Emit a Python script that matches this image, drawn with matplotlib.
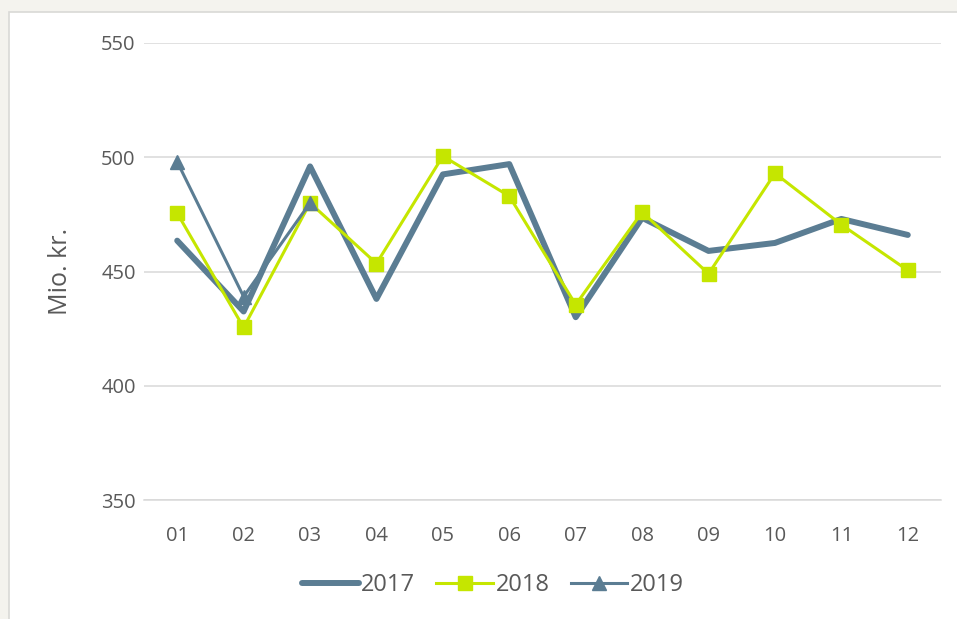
import matplotlib
matplotlib.use("Agg")
import matplotlib.pyplot as plt
from matplotlib.patches import Rectangle

months = ["01", "02", "03", "04", "05", "06", "07", "08", "09", "10", "11", "12"]
v2017 = [463.5, 432.5, 496, 438, 492.5, 497, 430, 473.5, 459, 462.5, 473, 466]
v2018 = [475.5, 425.5, 480, 453.5, 500.5, 483, 435.5, 476, 449, 493, 470.5, 450.5]
v2019 = [498, 439, 480]

c_blue = "#5b7d93"
c_lime = "#c5e600"
c_text = "#595959"

plt.rcParams['font.family'] = ['Open Sans', 'DejaVu Sans']

fig = plt.figure(figsize=(9.57, 6.19), dpi=100)
fig.patch.set_facecolor("#f4f3ee")
# white chart panel
fig.patches.append(Rectangle((9 / 957, -0.01), 1, 1 - 12 / 619 + 0.01, transform=fig.transFigure,
                             facecolor="white", edgecolor="#d9d9d6", lw=1.2, zorder=-5))

ax = fig.add_axes([144 / 957, 1 - 500 / 619, (941 - 144) / 957, (500 - 43) / 619])
ax.set_facecolor("none")

x = range(len(months))
ax.plot(x, v2017, color=c_blue, lw=4.3, solid_capstyle="round", solid_joinstyle="round", label="2017")
ax.plot(x, v2018, color=c_lime, lw=2.2, marker="s", markersize=10, label="2018")
ax.plot(range(len(v2019)), v2019, color=c_blue, lw=2.2, marker="^", markersize=10, label="2019")

ax.set_ylim(350, 550)
ax.set_xlim(-0.5, len(months) - 0.5)
ax.set_yticks([350, 400, 450, 500, 550])
ax.set_xticks(list(x))
ax.set_xticklabels(months)
ax.grid(axis="y", color="#d9d9d9", lw=1.1)
ax.set_axisbelow(True)
for s in ["top", "right", "left"]:
    ax.spines[s].set_visible(False)
ax.spines["bottom"].set_color("#d9d9d9")
ax.spines["bottom"].set_linewidth(1.1)
ax.tick_params(length=0, labelsize=14.5, colors=c_text)
ax.tick_params(axis="y", pad=6)
ax.tick_params(axis="x", pad=19)
ax.set_ylabel("Mio. kr.", fontsize=18, color=c_text, labelpad=20)

leg = fig.legend(loc="center", bbox_to_anchor=(0.515, 1 - 585 / 619), ncol=3, frameon=False,
                 fontsize=17, handlelength=2.4, columnspacing=0.9, handletextpad=0.1)
for t in leg.get_texts():
    t.set_color(c_text)

fig.savefig("out.png", dpi=100, facecolor=fig.get_facecolor())
